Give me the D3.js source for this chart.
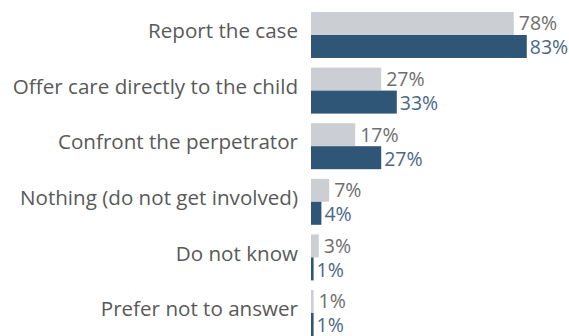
<!DOCTYPE html>
<html>
<head>
<meta charset="utf-8">
<script src="https://cdn.jsdelivr.net/npm/d3@7"></script>
<style>
  html, body { margin: 0; padding: 0; background: #ffffff; }
  svg { display: block; }
</style>
</head>
<body>
<div id="chart"></div>
<script>
// Responses: what people would do, two survey groups per answer
const categories = [
  "Report the case",
  "Offer care directly to the child",
  "Confront the perpetrator",
  "Nothing (do not get involved)",
  "Do not know",
  "Prefer not to answer"
];
const seriesNames = ["A", "B"];
const valuesA = [78, 27, 17, 7, 3, 1];
const valuesB = [83, 33, 27, 4, 1, 1];
const seriesColors = ["#cbcfd4", "#305677"];
const labelColors = ["#6e6e6e", "#4a6886"];

const width = 569, height = 336;

const svg = d3.select("#chart").append("svg")
  .attr("width", width)
  .attr("height", height);

const x = d3.scaleLinear().domain([0, 100]).range([311, 571]);

const y = d3.scaleBand()
  .domain(categories)
  .range([12, 336])
  .paddingInner(0.173)
  .paddingOuter(0);

const ySub = d3.scaleBand()
  .domain(seriesNames)
  .range([0, y.bandwidth()])
  .padding(0);

const rows = categories.map((c, i) => ({
  category: c,
  items: [
    { series: "A", value: valuesA[i] },
    { series: "B", value: valuesB[i] }
  ]
}));

const font = "'Open Sans', 'Noto Sans', sans-serif";

// category labels
svg.append("g")
  .selectAll("text")
  .data(categories)
  .join("text")
  .attr("x", 298)
  .attr("y", d => y(d) + y.bandwidth() / 2 - 4)
  .attr("dy", "0.35em")
  .attr("text-anchor", "end")
  .attr("font-family", font)
  .attr("font-size", 20.6)
  .attr("fill", "#595959")
  .text(d => d);

const groups = svg.append("g")
  .selectAll("g")
  .data(rows)
  .join("g")
  .attr("transform", d => `translate(0,${y(d.category)})`);

groups.selectAll("rect")
  .data(d => d.items)
  .join("rect")
  .attr("x", x(0))
  .attr("y", d => ySub(d.series))
  .attr("width", d => x(d.value) - x(0))
  .attr("height", ySub.bandwidth())
  .attr("fill", d => seriesColors[seriesNames.indexOf(d.series)]);

groups.selectAll("text")
  .data(d => d.items)
  .join("text")
  .attr("x", d => x(d.value) + (d.series === "A" ? 5 : 3))
  .attr("y", d => ySub(d.series) + ySub.bandwidth() / 2 + (d.series === "A" ? 0 : 1))
  .attr("dy", "0.35em")
  .attr("font-family", font)
  .attr("font-size", 19.5)
  .attr("fill", d => labelColors[seriesNames.indexOf(d.series)])
  .text(d => d.value + "%");
</script>
</body>
</html>
